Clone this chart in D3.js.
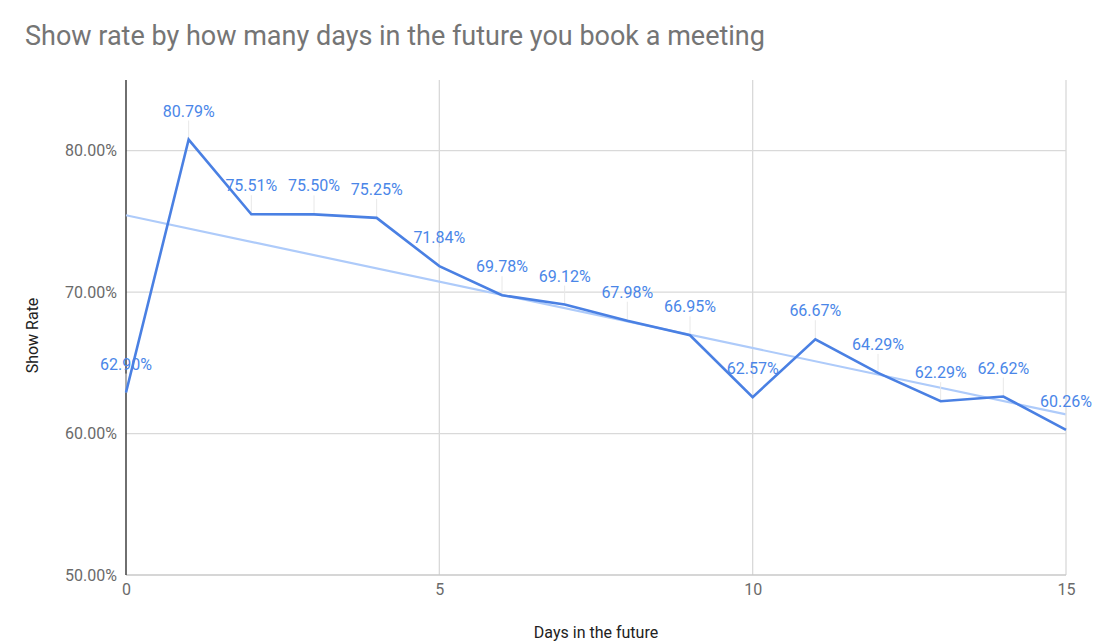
<!DOCTYPE html>
<html><head><meta charset="utf-8">
<script src="https://cdn.jsdelivr.net/npm/d3@7"></script>
<style>body{margin:0;background:#fff;font-family:Roboto,"Noto Sans",sans-serif}</style>
</head><body><svg id="c" width="1096" height="644"></svg>
<script>
const days = [0,1,2,3,4,5,6,7,8,9,10,11,12,13,14,15];
const showRate = [62.90,80.79,75.51,75.50,75.25,71.84,69.78,69.12,67.98,66.95,62.57,66.67,64.29,62.29,62.62,60.26];
const xTicks = [0,5,10,15];
const yTicks = [50,60,70,80];
const title = "Show rate by how many days in the future you book a meeting";
const xTitle = "Days in the future";
const yTitle = "Show Rate";

const svg = d3.select("#c");
const m = {l:126, r:1066, t:80, b:575};
const x = d3.scaleLinear().domain([0,15]).range([m.l,m.r]);
const y = d3.scaleLinear().domain([50,85]).range([m.b,m.t]);

svg.append("text").attr("x",25).attr("y",45).attr("font-size",27).attr("fill","#757575").text(title);

// grid
svg.append("g").selectAll("line").data(yTicks.slice(1)).join("line")
  .attr("x1",m.l).attr("x2",m.r).attr("y1",d=>y(d)).attr("y2",d=>y(d))
  .attr("stroke","#d9d9d9").attr("stroke-width",1.3);
svg.append("g").selectAll("line").data(xTicks.slice(1)).join("line")
  .attr("x1",d=>x(d)).attr("x2",d=>x(d)).attr("y1",m.t).attr("y2",m.b)
  .attr("stroke","#d9d9d9").attr("stroke-width",1.3);
svg.append("line").attr("x1",m.l).attr("x2",m.r).attr("y1",y(50)).attr("y2",y(50)).attr("stroke","#c8c8c8").attr("stroke-width",1.3);
svg.append("line").attr("x1",m.l).attr("x2",m.l).attr("y1",m.t).attr("y2",m.b).attr("stroke","#333").attr("stroke-width",1.4);

// axes
const yAxis = d3.axisLeft(y).tickValues(yTicks).tickSize(0).tickPadding(9).tickFormat(d=>d.toFixed(2)+"%");
const gy = svg.append("g").attr("transform",`translate(${m.l},0)`).call(yAxis);
gy.select(".domain").remove();
gy.selectAll("text").attr("font-size",16).attr("fill","#6a6a6a").attr("font-family","Roboto,sans-serif");
const xAxis = d3.axisBottom(x).tickValues(xTicks).tickSize(0).tickPadding(9).tickFormat(d3.format("d"));
const gx = svg.append("g").attr("transform",`translate(0,${m.b})`).call(xAxis);
gx.select(".domain").remove();
gx.selectAll("text").attr("font-size",16).attr("fill","#6a6a6a").attr("font-family","Roboto,sans-serif");

svg.append("text").attr("x",(m.l+m.r)/2).attr("y",638).attr("text-anchor","middle").attr("font-size",16).attr("fill","#222").text(xTitle);
svg.append("text").attr("transform",`translate(38,${(m.t+m.b)/2+8}) rotate(-90)`).attr("text-anchor","middle").attr("font-size",16).attr("fill","#222").text(yTitle);

// trendline (least squares)
const mx = d3.mean(days), my = d3.mean(showRate);
const slope = d3.sum(days,(d,i)=>(d-mx)*(showRate[i]-my))/d3.sum(days,d=>(d-mx)*(d-mx));
const icpt = my - slope*mx;
svg.append("line").attr("x1",x(0)).attr("x2",x(15)).attr("y1",y(icpt)).attr("y2",y(icpt+slope*15))
  .attr("stroke","#aecbfa").attr("stroke-width",2.2);

// leader lines + labels
const pts = days.map((d,i)=>({d,v:showRate[i],i}));
const lab = svg.append("g");
pts.forEach(p=>{
  const off = 23;
  lab.append("line").attr("x1",x(p.d)).attr("x2",x(p.d)).attr("y1",y(p.v)-off+4).attr("y2",y(p.v))
    .attr("stroke","#e8e8e8").attr("stroke-width",1);
  lab.append("text").attr("x",x(p.d)).attr("y",y(p.v)-off).attr("text-anchor","middle")
    .attr("font-size",16).attr("fill","#4a86e8").text(p.v.toFixed(2)+"%");
});

// main line
svg.append("path").datum(pts).attr("fill","none").attr("stroke","#4a80e3").attr("stroke-width",2.6)
  .attr("stroke-linejoin","miter")
  .attr("d",d3.line().x(p=>x(p.d)).y(p=>y(p.v)));
</script></body></html>
